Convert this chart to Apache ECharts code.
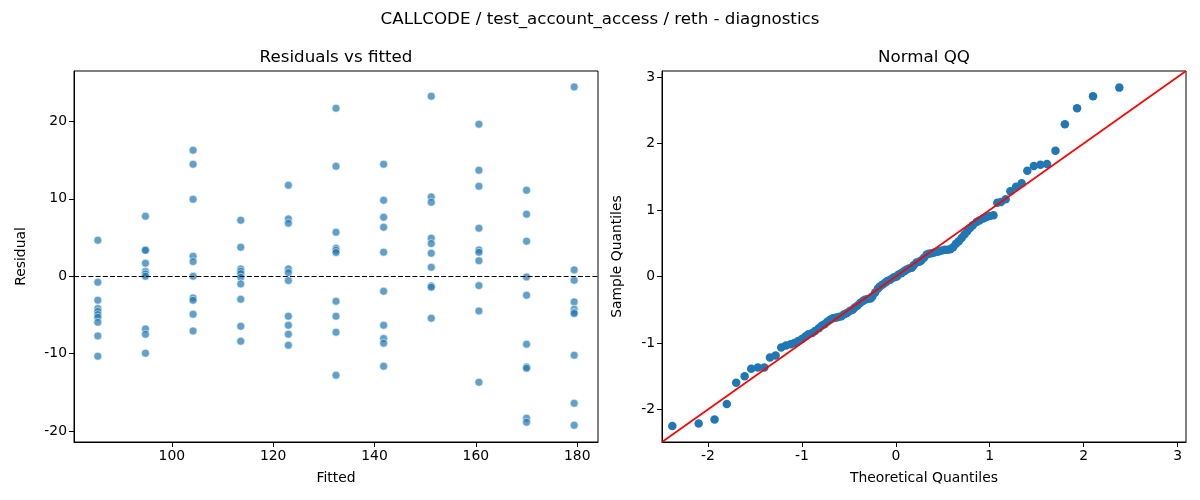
<!DOCTYPE html>
<html>
<head>
<meta charset="utf-8">
<script src="https://cdn.jsdelivr.net/npm/echarts@6/dist/echarts.min.js"></script>
<style>
  html, body { margin: 0; padding: 0; background: #fff; }
  #chart { width: 1200px; height: 500px; }
</style>
</head>
<body>
<div id="chart"></div>
<script>
// fitted levels (x positions of the residual columns)
const fittedLevels = [85.4, 94.8, 104.2, 113.6, 123.0, 132.4, 141.8, 151.2, 160.6, 170.0, 179.4]
// residuals read per fitted level
const residualGroups = [
  [4.65, -0.77, -3.10, -4.17, -4.55, -4.95, -5.30, -5.94, -7.70, -10.33],
  [7.75, 3.40, 3.35, 1.68, 0.60, 0.30, 0.0, -6.80, -7.49, -9.94],
  [16.27, 14.46, 9.94, 2.58, 1.89, 0.0, -2.80, -3.10, -4.91, -7.06],
  [7.23, 3.74, 0.95, 0.65, 0.34, -0.13, -0.99, -2.97, -6.46, -8.39],
  [11.75, 7.40, 6.84, 0.95, 0.47, -0.56, -5.16, -6.33, -7.49, -8.91],
  [21.69, 14.20, 5.68, 3.62, 3.36, 3.06, -3.23, -5.16, -7.23, -12.78],
  [14.46, 9.81, 7.62, 6.33, 3.10, -1.94, -6.33, -8.05, -8.65, -11.62],
  [23.24, 10.24, 9.55, 4.91, 4.22, 2.97, 1.16, -1.25, -1.42, -5.42],
  [19.63, 13.69, 11.62, 6.20, 3.40, 3.10, 2.00, -1.21, -4.48, -13.69],
  [11.10, 8.01, 4.52, -0.09, -2.45, -8.78, -11.71, -11.88, -18.33, -18.85],
  [24.45, 0.82, -0.52, -3.31, -4.26, -4.65, -4.82, -10.20, -16.40, -19.24]
]

// QQ plot points
const qqTheoretical = [
  -2.38, -2.10, -1.93, -1.80, -1.70, -1.61, -1.54, -1.47, -1.40, -1.34, -1.28, -1.22, -1.17,
  -1.12, -1.08, -1.04, -1.00, -0.96, -0.93, -0.89, -0.86, -0.82, -0.79, -0.76, -0.73, -0.70,
  -0.67, -0.64, -0.61, -0.58, -0.55, -0.52, -0.49, -0.46, -0.44, -0.41, -0.38, -0.35, -0.33,
  -0.30, -0.27, -0.25, -0.22, -0.19, -0.17, -0.14, -0.11, -0.09, -0.06, -0.03, -0.01, 0.01,
  0.03, 0.06, 0.09, 0.11, 0.14, 0.17, 0.19, 0.22, 0.25, 0.27, 0.30, 0.33, 0.35, 0.38, 0.41,
  0.44, 0.46, 0.49, 0.52, 0.55, 0.58, 0.61, 0.64, 0.67, 0.70, 0.73, 0.76, 0.79, 0.82, 0.86,
  0.89, 0.93, 0.96, 1.00, 1.04, 1.08,
  1.12, 1.17, 1.22, 1.28, 1.34, 1.40, 1.47, 1.54, 1.61, 1.70, 1.80, 1.93, 2.10, 2.38
]
const qqSample = [
  -2.25, -2.21, -2.15, -1.92, -1.60, -1.50, -1.39, -1.37, -1.37, -1.22, -1.19, -1.07, -1.04,
  -1.02, -1.00, -0.97, -0.94, -0.90, -0.87, -0.85, -0.82, -0.78, -0.74, -0.72, -0.68, -0.65,
  -0.63, -0.62, -0.61, -0.60, -0.57, -0.55, -0.52, -0.50, -0.47, -0.44, -0.40, -0.37, -0.35,
  -0.34, -0.33, -0.30, -0.24, -0.18, -0.15, -0.12, -0.09, -0.07, -0.05, -0.02, -0.01, 0.00,
  0.03, 0.05, 0.08, 0.10, 0.12, 0.13, 0.17, 0.21, 0.22, 0.24, 0.28, 0.33, 0.34, 0.35, 0.36,
  0.37, 0.38, 0.39, 0.40, 0.40, 0.41, 0.44, 0.49, 0.53, 0.58, 0.63, 0.68, 0.73, 0.77, 0.82,
  0.84, 0.87, 0.89, 0.91, 0.92, 1.11,
  1.12, 1.16, 1.28, 1.35, 1.40, 1.59, 1.66, 1.68, 1.69, 1.89, 2.29, 2.53, 2.71, 2.84
]

const residTicksX = [100, 120, 140, 160, 180]
const residTicksY = [-20, -10, 0, 10, 20]
const qqTicks = [-2, -1, 0, 1, 2, 3]
const qqRange = [-2.49, 3.09]

const residData = []
fittedLevels.forEach(function (f, i) {
  residualGroups[i].forEach(function (r) { residData.push([f, r]) })
})
const qqData = qqTheoretical.map(function (x, i) { return [x, qqSample[i]] })

const font = 'DejaVu Sans'
const tickLabel = { fontFamily: font, fontSize: 13.9, color: '#000', margin: 7 }
const nameStyle = { fontFamily: font, fontSize: 13.9, color: '#000' }
const titleStyle = { fontFamily: font, fontSize: 16.7, fontWeight: 'normal', color: '#000' }

function valueAxis (min, max, ticks, name, gap, extra) {
  return Object.assign({
    type: 'value',
    min: min,
    max: max,
    name: name,
    nameLocation: 'middle',
    nameGap: gap,
    nameTextStyle: nameStyle,
    splitLine: { show: false },
    axisLine: { show: true, onZero: false, lineStyle: { color: '#000', width: 1 } },
    axisTick: { show: true, length: 5, customValues: ticks, lineStyle: { color: '#000' } },
    axisLabel: Object.assign({ customValues: ticks }, tickLabel)
  }, extra || {})
}

const chart = echarts.init(document.getElementById('chart'), null, { renderer: 'canvas' })
chart.setOption({
  animation: false,
  backgroundColor: '#fff',
  title: [
    { text: 'CALLCODE / test_account_access / reth - diagnostics', left: 600, top: 11, padding: 0, textAlign: 'center', textStyle: titleStyle },
    { text: 'Residuals vs fitted', left: 336, top: 49, padding: 0, textAlign: 'center', textStyle: titleStyle },
    { text: 'Normal QQ', left: 924, top: 49, padding: 0, textAlign: 'center', textStyle: titleStyle }
  ],
  grid: [
    { left: 74, top: 71, width: 524, height: 371, show: true, borderColor: '#000', borderWidth: 1, backgroundColor: 'transparent' },
    { left: 662, top: 71, width: 524, height: 371, show: true, borderColor: '#000', borderWidth: 1, backgroundColor: 'transparent' }
  ],
  xAxis: [
    valueAxis(80.7, 184.1, residTicksX, 'Fitted', 29, { gridIndex: 0 }),
    valueAxis(qqRange[0], qqRange[1], qqTicks, 'Theoretical Quantiles', 29, { gridIndex: 1 })
  ],
  yAxis: [
    valueAxis(-21.4, 26.5, residTicksY, 'Residual', 46, { gridIndex: 0 }),
    valueAxis(qqRange[0], qqRange[1], qqTicks, 'Sample Quantiles', 38, { gridIndex: 1 })
  ],
  series: [
    {
      type: 'scatter',
      xAxisIndex: 0,
      yAxisIndex: 0,
      data: residData,
      symbolSize: 8,
      itemStyle: { color: '#1f77b4', opacity: 0.7, borderColor: '#fff', borderWidth: 0.8 },
      markLine: {
        silent: true,
        symbol: 'none',
        label: { show: false },
        lineStyle: { color: '#000', width: 1, type: [5, 2.2] },
        data: [{ yAxis: 0 }]
      },
      z: 3
    },
    {
      type: 'line',
      xAxisIndex: 1,
      yAxisIndex: 1,
      data: [[qqRange[0], qqRange[0]], [qqRange[1], qqRange[1]]],
      showSymbol: false,
      lineStyle: { color: '#ff0000', width: 1.6 },
      z: 4
    },
    {
      type: 'scatter',
      xAxisIndex: 1,
      yAxisIndex: 1,
      data: qqData,
      symbolSize: 8.5,
      itemStyle: { color: '#1f77b4', opacity: 1 },
      z: 3
    }
  ]
})
</script>
</body>
</html>
